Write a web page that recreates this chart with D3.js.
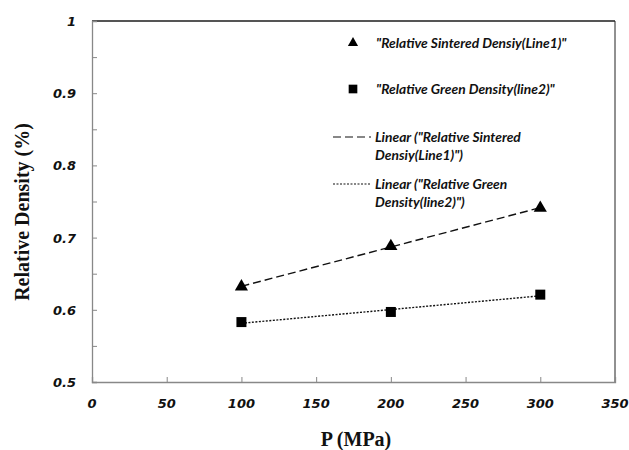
<!DOCTYPE html>
<html>
<head>
<meta charset="utf-8">
<script src="https://cdn.jsdelivr.net/npm/d3@7"></script>
<style>
  body { margin: 0; background: #fff; }
  .tick-label { font-family: "DejaVu Sans", sans-serif; font-weight: bold; font-style: italic; font-size: 13px; fill: #111; }
  .axis-title { font-family: "Liberation Serif", serif; font-weight: bold; font-size: 20px; fill: #111; }
  .legend-text { font-family: Lato, "Open Sans", sans-serif; font-style: italic; font-weight: bold; font-size: 13.8px; fill: #111; }
</style>
</head>
<body>
<div id="chart"></div>
<script>
// pressure values (MPa)
var pressure = [100, 200, 300];
// relative densities
var sintered = [0.632, 0.688, 0.741];
var green = [0.583, 0.597, 0.621];

var xTicks = [0, 50, 100, 150, 200, 250, 300, 350];
var yTicks = [0.5, 0.6, 0.7, 0.8, 0.9, 1];
var yMinor = [0.55, 0.65, 0.75, 0.85, 0.95];

var legendMarkers = ['"Relative Sintered Densiy(Line1)"', '"Relative Green Density(line2)"'];
var legendLines = [
  ['Linear ("Relative Sintered', 'Densiy(Line1)")'],
  ['Linear ("Relative Green', 'Density(line2)")']
];

var width = 629, height = 450;
// plot area edges (window.top is reserved, so use other names)
var plotL = 92, plotT = 21, plotR = 615, plotB = 382;

var svg = d3.select("#chart").append("svg")
    .attr("width", width)
    .attr("height", height);

var x = d3.scaleLinear().domain([0, 350]).range([plotL, plotR]);
var y = d3.scaleLinear().domain([0.5, 1]).range([plotB, plotT]);

//least squares fit, like the spreadsheet trendline
function fit(xs, ys) {
    var n = xs.length, mx = d3.mean(xs), my = d3.mean(ys);
    var sxy = 0, sxx = 0;
    for (var i = 0; i < n; i++) {
        sxy += (xs[i] - mx) * (ys[i] - my);
        sxx += (xs[i] - mx) * (xs[i] - mx);
    }
    var b = sxy / sxx;
    return function(v) { return my + b * (v - mx); };
}

// frame: top and right border
svg.append("line").attr("x1", plotL).attr("x2", plotR).attr("y1", plotT).attr("y2", plotT)
    .attr("stroke", "#555").attr("stroke-width", 2);
svg.append("line").attr("x1", plotR).attr("x2", plotR).attr("y1", plotT).attr("y2", plotB)
    .attr("stroke", "#222").attr("stroke-width", 1);

// axes
var xAxis = d3.axisBottom(x).tickValues(xTicks).tickSize(-5).tickFormat("");
var gx = svg.append("g").attr("transform", "translate(0," + plotB + ")").call(xAxis);
var yAxis = d3.axisLeft(y).tickValues(yTicks.concat(yMinor)).tickSize(-5).tickFormat("");
var gy = svg.append("g").attr("transform", "translate(" + plotL + ",0)").call(yAxis);
[gx, gy].forEach(function(g) {
    g.select(".domain").attr("stroke", "#888").attr("stroke-width", 1.3);
    g.selectAll(".tick line").attr("stroke", "#888");
});

svg.selectAll(".xlab").data(xTicks).enter().append("text")
    .attr("class", "tick-label")
    .attr("x", function(d) { return x(d); })
    .attr("y", 408)
    .attr("text-anchor", "middle")
    .text(function(d) { return d; });

svg.selectAll(".ylab").data(yTicks).enter().append("text")
    .attr("class", "tick-label")
    .attr("x", 76)
    .attr("y", function(d) { return y(d) + 5; })
    .attr("text-anchor", "end")
    .text(function(d) { return d; });

svg.append("text").attr("class", "axis-title")
    .attr("transform", "translate(29,212) rotate(-90)")
    .attr("text-anchor", "middle")
    .text("Relative Density (%)");

svg.append("text").attr("class", "axis-title")
    .attr("x", 356).attr("y", 446)
    .attr("text-anchor", "middle")
    .text("P (MPa)");

// trendlines
var f1 = fit(pressure, sintered), f2 = fit(pressure, green);
var x0 = d3.min(pressure), x1 = d3.max(pressure);
svg.append("line")
    .attr("x1", x(x0)).attr("y1", y(f1(x0))).attr("x2", x(x1)).attr("y2", y(f1(x1)))
    .attr("stroke", "#111").attr("stroke-width", 1.4).attr("stroke-dasharray", "8,4");
svg.append("line")
    .attr("x1", x(x0)).attr("y1", y(f2(x0))).attr("x2", x(x1)).attr("y2", y(f2(x1)))
    .attr("stroke", "#111").attr("stroke-width", 1.4).attr("stroke-dasharray", "2,1.5");

var tri = d3.symbol().type(d3.symbolTriangle).size(75);
var sq = d3.symbol().type(d3.symbolSquare).size(100);

svg.selectAll(".tri").data(pressure).enter().append("path")
    .attr("d", tri)
    .attr("transform", function(d, i) { return "translate(" + x(d) + "," + y(sintered[i]) + ")"; })
    .attr("fill", "#000");

svg.selectAll(".sq").data(pressure).enter().append("path")
    .attr("d", sq)
    .attr("transform", function(d, i) { return "translate(" + x(d) + "," + y(green[i]) + ")"; })
    .attr("fill", "#000");

// legend
svg.append("path").attr("d", d3.symbol().type(d3.symbolTriangle).size(45))
    .attr("transform", "translate(353,43)").attr("fill", "#000");
svg.append("path").attr("d", d3.symbol().type(d3.symbolSquare).size(75))
    .attr("transform", "translate(353,89)").attr("fill", "#000");

var legendY = [43, 89];
legendMarkers.forEach(function(t, i) {
    svg.append("text").attr("class", "legend-text")
        .attr("x", 376).attr("y", legendY[i] + 5)
        .text(t);
});

var lineY = [137, 184];
var dashes = ["8,4", "2,1.5"];
legendLines.forEach(function(lines, i) {
    svg.append("line").attr("x1", 333).attr("x2", 371)
        .attr("y1", lineY[i]).attr("y2", lineY[i])
        .attr("stroke", "#111").attr("stroke-width", 1.2)
        .attr("stroke-dasharray", dashes[i]);
    lines.forEach(function(t, j) {
        svg.append("text").attr("class", "legend-text")
            .attr("x", 375).attr("y", lineY[i] + 5 + j * 18)
            .text(t);
    });
});
</script>
</body>
</html>
